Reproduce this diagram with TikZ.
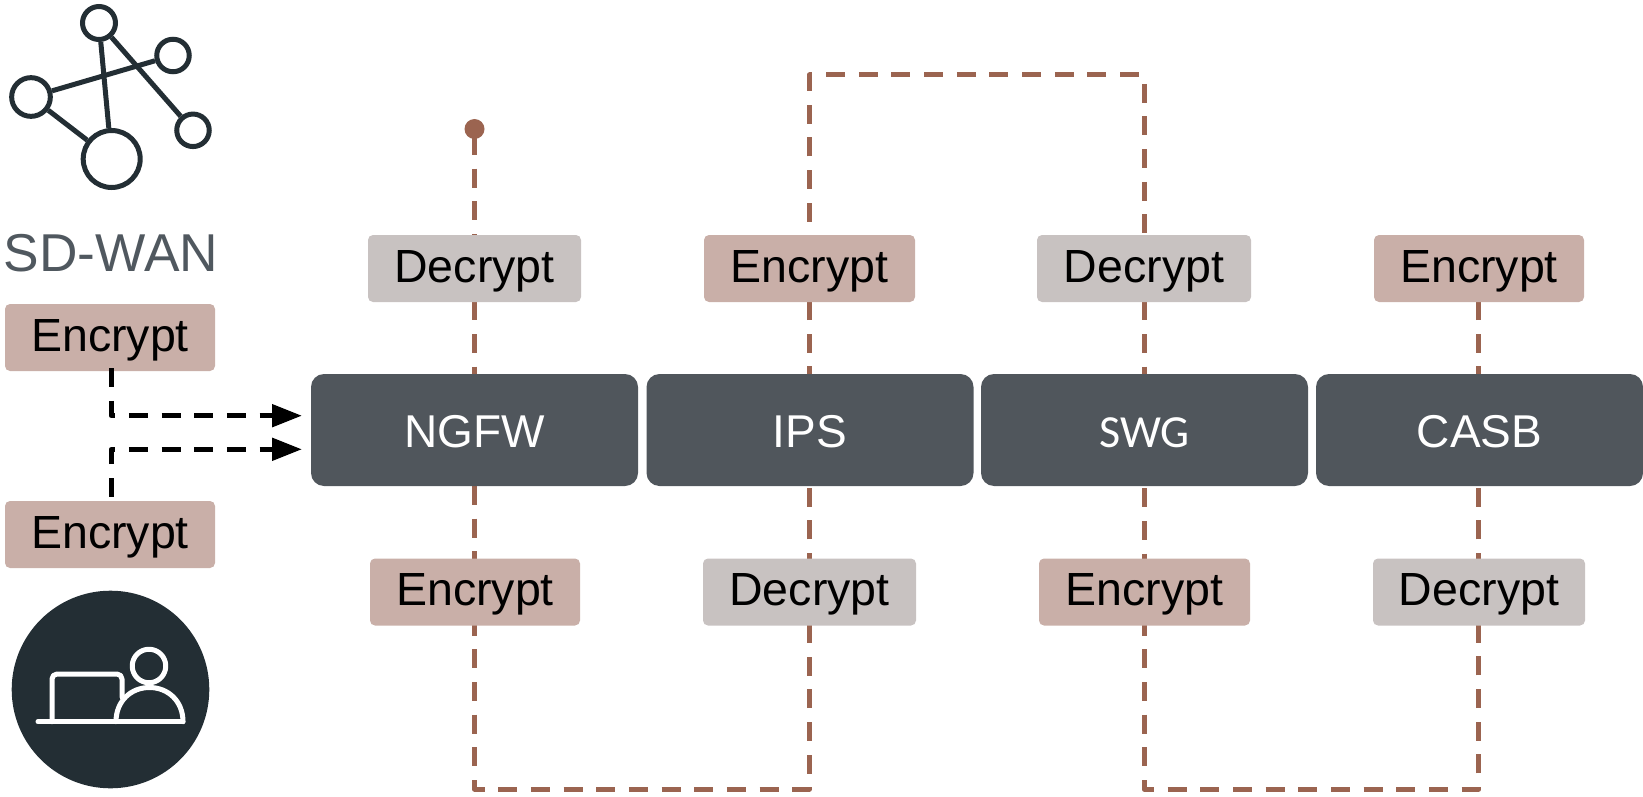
\documentclass[tikz,border=0pt]{standalone}
\usepackage{fontspec}
\setmainfont{Liberation Sans}
\newfontfamily\swgfont{Carlito}
\usetikzlibrary{arrows.meta,backgrounds}
\definecolor{rosebox}{HTML}{C9AFA8}
\definecolor{greybox}{HTML}{C8C2C1}
\definecolor{slatebox}{HTML}{50565C}
\definecolor{linkbrown}{HTML}{9B6450}
\definecolor{icondark}{HTML}{232E34}
\definecolor{wantext}{HTML}{50585F}
\tikzset{
  x=1pt,y=-1pt,
  tagbox/.style={rounded corners=5pt,inner sep=0pt,text=black,font=\fontsize{46.5}{50}\selectfont,anchor=center,text height=36pt,text depth=8.6pt,minimum height=67pt},
  enc/.style={tagbox,fill=rosebox},
  dec/.style={tagbox,fill=greybox},
  fnbox/.style={fill=slatebox,rounded corners=13pt,minimum width=327pt,minimum height=112pt,inner sep=0pt,text=white,font=\fontsize{46}{50}\selectfont,text height=36pt,text depth=2pt},
  brownlink/.style={draw=linkbrown,line width=5pt,line join=round,dash pattern=on 19pt off 13.67pt,dash phase=#1},
  blacklink/.style={draw=black,line width=5pt,line join=round,dash pattern=on 19pt off 13.67pt,-{Triangle[length=30pt,width=22pt]}},
  iconline/.style={draw=icondark,line width=5pt},
  whiteline/.style={draw=white,line width=5pt,line cap=round,line join=round},
}
\begin{document}
\begin{tikzpicture}
\useasboundingbox (0,0) rectangle (1643,797);
% column and routing coordinates
\coordinate (c1) at (474.5,0);
\coordinate (c2) at (809.4,0);
\coordinate (c3) at (1144,0);
\coordinate (c4) at (1478.8,0);
\coordinate (rtop) at (0,75);
\coordinate (rbot) at (0,789);
\node[circle,fill=linkbrown,minimum size=20pt,inner sep=0pt] (dot) at (474.5,129) {};
% function boxes
\node[fnbox] (ngfw) at (474.5,430) {NGFW};
\node[fnbox] (ips) at (810,430) {IPS};
\node[fnbox,font=\swgfont\fontsize{46}{50}\selectfont] (swg) at (1144.5,430) {SWG};
\node[fnbox] (casb) at (1479.5,430) {CASB};
% top tags
\node[dec,minimum width=213pt] (d1) at (474.5,268.5) {Decrypt};
\node[enc,minimum width=211pt] (e2) at (809.5,268.5) {Encrypt};
\node[dec,minimum width=214pt] (d3) at (1144,268.5) {Decrypt};
\node[enc,minimum width=210pt] (e4) at (1479,268.5) {Encrypt};
% bottom tags
\node[enc,minimum width=210pt] (e5) at (475,592) {Encrypt};
\node[dec,minimum width=213pt] (d6) at (809.5,592) {Decrypt};
\node[enc,minimum width=211pt] (e7) at (1144.5,592) {Encrypt};
\node[dec,minimum width=212pt] (d8) at (1479,592) {Decrypt};
% service chain, behind boxes
\begin{scope}[on background layer]
\draw[brownlink=25.67pt] (dot.center) -- (c1 |- d1.center);
\draw[brownlink=32.5pt] (c1 |- d1.center) -- (c1 |- ngfw.center);
\draw[brownlink=9.3pt] (c1 |- ngfw.center) -- (c1 |- e5.center);
\draw[brownlink=8pt] (c1 |- e5.center) -- (c1 |- rbot) -- (c2 |- rbot) -- (c2 |- d6.center);
\draw[brownlink=12.8pt] (c2 |- d6.center) -- (c2 |- ips.center);
\draw[brownlink=20.7pt] (c2 |- ips.center) -- (c2 |- e2.center);
\draw[brownlink=18.5pt] (c2 |- e2.center) -- (c2 |- rtop) -- (c3 |- rtop) -- (c3 |- d3.center);
\draw[brownlink=32.5pt] (c3 |- d3.center) -- (c3 |- swg.center);
\draw[brownlink=7pt] (c3 |- swg.center) -- (c3 |- e7.center);
\draw[brownlink=8pt] (c3 |- e7.center) -- (c3 |- rbot) -- (c4 |- rbot) -- (c4 |- d8.center);
\draw[brownlink=12.8pt] (c4 |- d8.center) -- (c4 |- casb.center);
\draw[brownlink=20.7pt] (c4 |- casb.center) -- (c4 |- e4.center);
\end{scope}
% left side
\node[text=wantext,font=\fontsize{53.3}{58}\selectfont,inner sep=0pt,anchor=base] (wan) at (111,271) {SD-WAN};
\node[enc,minimum width=210pt] (el1) at (110,337.5) {Encrypt};
\node[enc,minimum width=210pt] (el2) at (110,534.5) {Encrypt};
\coordinate (in1) at (302,415.7);
\coordinate (in2) at (302,449.3);
\draw[blacklink] ([xshift=1pt,yshift=3pt]el1.south) |- (in1);
\draw[blacklink] ([xshift=1pt,yshift=4pt]el2.north) |- (in2);
% network icon
\node[circle,iconline,minimum size=33pt,inner sep=0pt] (n1) at (99,23) {};
\node[circle,iconline,minimum size=32.5pt,inner sep=0pt] (n2) at (173,55.5) {};
\node[circle,iconline,minimum size=38.7pt,inner sep=0pt] (n3) at (31,97) {};
\node[circle,iconline,minimum size=32.5pt,inner sep=0pt] (n4) at (193,130.3) {};
\node[circle,iconline,minimum size=57pt,inner sep=0pt] (n5) at (111.7,159) {};
\draw[iconline] (n1) -- (n5);
\draw[iconline] (n1) -- (n4);
\draw[iconline] (n3) -- (n2);
\draw[iconline] (n3) -- (n5);
% user icon
\node[circle,fill=icondark,minimum size=197.6pt,inner sep=0pt] (usr) at (110.5,689.5) {};
\coordinate (base1) at (38,721.7);
\coordinate (base2) at (183,721.7);
\draw[whiteline] (base1) -- (base2);
\draw[whiteline,rounded corners=5pt] (52,721.7) -- (52,674) -- (122,674) -- (122,697);
\draw[whiteline] (116,721.7) .. controls (116,701) and (131,687.5) .. (149.5,687.5) .. controls (168,687.5) and (183,701) .. (183,721.7);
\node[circle,whiteline,minimum size=33.5pt,inner sep=0pt] (head) at (149,666) {};
\end{tikzpicture}
\end{document}
